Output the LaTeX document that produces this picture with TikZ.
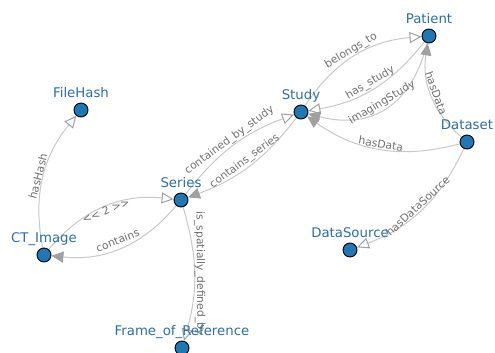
\documentclass[tikz,border=0pt]{standalone}
\usepackage{fontspec}
\setmainfont{DejaVu Sans}
\usetikzlibrary{arrows.meta,backgrounds}
\definecolor{nodeblue}{HTML}{1F77B4}
\definecolor{labelblue}{HTML}{2B6EA3}
\definecolor{edgegray}{HTML}{C8C8C8}
\definecolor{tipgray}{HTML}{A0A0A0}
\definecolor{textgray}{HTML}{707070}

\begin{document}
\begin{tikzpicture}[x=1pt,y=1pt,
  entity/.style={circle, fill=nodeblue, draw=black, line width=0.9pt,
    minimum size=14pt, inner sep=0pt},
  title/.style={font=\fontsize{13.3}{15}\selectfont, text=labelblue,
    anchor=base, inner sep=0pt},
  rel/.style={draw=edgegray, line width=1pt},
  openrel/.style={rel, -{Triangle[open, length=12pt, width=11pt, color=tipgray]}},
  filledrel/.style={rel, -{Triangle[length=12pt, width=11pt, color=tipgray]}},
  lbl/.style={font=\fontsize{10.8}{12}\selectfont, text=textgray,
    sloped, midway, above=0.3pt, inner sep=0.3pt},
]
\useasboundingbox (0,0) rectangle (495,-353);

% entities
\node[entity] (patient)    at (429,-36)  {};
\node[entity] (study)      at (301,-112) {};
\node[entity] (dataset)    at (467,-142) {};
\node[entity] (filehash)   at (81,-110)  {};
\node[entity] (series)     at (181,-200) {};
\node[entity] (ctimage)    at (44,-255)  {};
\node[entity] (datasource) at (350,-250) {};
\node[entity] (frameref)   at (182,-348) {};

% entity names
\node[title] (patientT)    at (429,-23.3)  {Patient};
\node[title] (studyT)      at (301,-99.3)  {Study};
\node[title] (datasetT)    at (467,-129.3) {Dataset};
\node[title] (filehashT)   at (81,-97.3)   {FileHash};
\node[title] (seriesT)     at (181,-187.3) {Series};
\node[title] (ctimageT)    at (44,-242.3)  {CT\_Image};
\node[title] (datasourceT) at (350,-237.3) {DataSource};
\node[title] (framerefT)   at (182,-335.3) {Frame\_of\_Reference};

% relations
\begin{pgfonlayer}{background}
\draw[openrel] (study) to[bend left=26] node[lbl] {belongs\_to} (patient);
\draw[openrel] (patient) to[bend left=21] node[lbl] {has\_study} (study);
\draw[filledrel] (patient) to[bend left=45, looseness=1.2] node[lbl] {imagingStudy} (study);
\draw[filledrel] (dataset) to[bend left=29] node[lbl] {hasData} (patient);
\draw[filledrel] (dataset) to[bend left=25] node[lbl] {hasData} (study);
\draw[openrel] (dataset) to[bend left=22] node[lbl] {hasDataSource} (datasource);
\draw[openrel] (series) to[bend left=16] node[lbl] {contained\_by\_study} (study);
\draw[filledrel] (study) to[bend left=16] node[lbl] {contains\_series} (series);
\draw[openrel] (ctimage) to[bend left=28] node[lbl, below=-0.5pt] {<{}< 2 >{}>} (series);
\draw[filledrel] (series) to[bend left=28] node[lbl, above=3pt] {contains} (ctimage);
\draw[openrel] (ctimage) to[bend left=25] node[lbl] {hasHash} (filehash);
\draw[openrel] (series) to[bend left=16] node[lbl, above=-1pt] {is\_spatially\_defined\_by} (frameref);
\end{pgfonlayer}
\end{tikzpicture}
\end{document}
